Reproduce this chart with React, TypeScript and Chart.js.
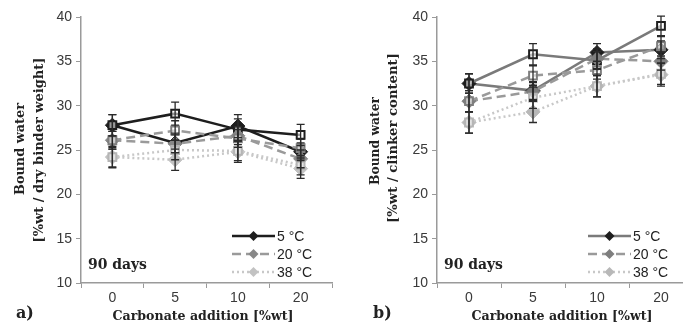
import React, { useEffect, useRef } from "react";
import { Chart, registerables } from "chart.js";

Chart.register(...registerables);

// Carbonate addition levels (x categories)
const categories = ["0", "5", "10", "20"];
const legendLabels = ["5 °C", "20 °C", "38 °C"];

// Panel a) bound water, %wt of dry binder weight
const a5Diamond = [27.8, 25.8, 27.7, 24.8];
const a5DiamondErr = [1.2, 1.1, 1.3, 1.0];
const a5Square = [27.8, 29.1, 27.3, 26.7];
const a5SquareErr = [1.2, 1.3, 1.2, 1.2];
const a20Diamond = [26.1, 25.7, 26.6, 24.0];
const a20DiamondErr = [1.0, 1.0, 1.0, 1.0];
const a20Square = [26.1, 27.2, 26.3, 25.2];
const a20SquareErr = [1.0, 1.1, 1.0, 1.0];
const a38Diamond = [24.2, 23.9, 24.8, 22.9];
const a38DiamondErr = [1.2, 1.2, 1.2, 1.1];
const a38Square = [24.2, 25.0, 24.9, 23.3];
const a38SquareErr = [1.1, 1.1, 1.1, 1.1];

// Panel b) bound water, %wt of clinker content
const b5Diamond = [32.5, 31.7, 36.0, 36.3];
const b5DiamondErr = [1.1, 1.0, 1.0, 1.0];
const b5Square = [32.5, 35.8, 35.1, 39.0];
const b5SquareErr = [1.1, 1.2, 1.0, 1.1];
const b20Diamond = [30.5, 31.6, 35.3, 35.0];
const b20DiamondErr = [1.2, 1.0, 1.1, 1.0];
const b20Square = [30.5, 33.4, 34.0, 36.7];
const b20SquareErr = [1.2, 1.1, 1.0, 1.1];
const b38Diamond = [28.1, 29.3, 32.2, 33.5];
const b38DiamondErr = [1.2, 1.2, 1.2, 1.3];
const b38Square = [28.1, 30.9, 32.2, 33.6];
const b38SquareErr = [1.2, 1.2, 1.2, 1.2];

const yMin = 10;
const yMax = 40;
const yStep = 5;

const SERIF = "'DejaVu Serif', 'Liberation Serif', serif";
const SANS = "'Liberation Sans', 'DejaVu Sans', sans-serif";

type SeriesStyle = {
  line: string;
  marker: string;
  dash: number[];
};

// Sets a bold serif font whose rendered width equals the given width
function fitFont(ctx: CanvasRenderingContext2D, text: string, width: number) {
  ctx.font = `bold 14px ${SERIF}`;
  const w = ctx.measureText(text).width;
  const size = (14 * width) / w;
  ctx.font = `bold ${size.toFixed(2)}px ${SERIF}`;
}

const errorBarPlugin = {
  id: "errorBars",
  afterDatasetsDraw(chart: any) {
    const ctx = chart.ctx;
    const yScale = chart.scales.y;
    chart.data.datasets.forEach((ds: any, i: number) => {
      if (!ds.errors) return;
      const meta = chart.getDatasetMeta(i);
      ctx.save();
      ctx.strokeStyle = "#2a2a2a";
      ctx.lineWidth = 1.3;
      ctx.setLineDash([]);
      meta.data.forEach((pt: any, j: number) => {
        const v = ds.data[j];
        const e = ds.errors[j];
        const x = pt.x;
        const yTop = yScale.getPixelForValue(v + e);
        const yBot = yScale.getPixelForValue(v - e);
        ctx.beginPath();
        ctx.moveTo(x, yTop);
        ctx.lineTo(x, yBot);
        ctx.moveTo(x - 4, yTop);
        ctx.lineTo(x + 4, yTop);
        ctx.moveTo(x - 4, yBot);
        ctx.lineTo(x + 4, yBot);
        ctx.stroke();
      });
      ctx.restore();
    });
  },
};

type TitleLine = { text: string; x: number; y: number; width: number };

function makeConfig(opts: {
  series: { data: number[]; err: number[]; style: SeriesStyle; square: boolean }[];
  legendStyles: SeriesStyle[];
  yTitle: TitleLine[];
  xTitleX: number;
  axisWidth: number;
  padRight: number;
  panel: string;
  panelX: number;
  legendX: number;
}) {
  const overlay = {
    id: "overlay",
    afterDraw(chart: any) {
      const ctx = chart.ctx;
      const area = chart.chartArea;
      ctx.save();
      ctx.fillStyle = "#222";
      ctx.textAlign = "center";
      ctx.textBaseline = "middle";
      // y-axis title, two rotated lines
      opts.yTitle.forEach((t) => {
        ctx.save();
        fitFont(ctx, t.text, t.width);
        ctx.translate(t.x, t.y);
        ctx.rotate(-Math.PI / 2);
        ctx.fillText(t.text, 0, 0);
        ctx.restore();
      });
      // x-axis title
      fitFont(ctx, "Carbonate addition [%wt]", 181);
      ctx.fillText("Carbonate addition [%wt]", opts.xTitleX, 317);
      // panel letter
      ctx.textAlign = "left";
      ctx.font = `bold 16px ${SERIF}`;
      ctx.fillText(opts.panel, opts.panelX, 314);
      // age label
      fitFont(ctx, "90 days", 59);
      ctx.fillText("90 days", area.left + 7, 265);
      // legend
      ctx.font = `14px ${SANS}`;
      const rows = [236, 254, 272];
      opts.legendStyles.forEach((st, k) => {
        const y = rows[k];
        const x0 = opts.legendX;
        const x1 = x0 + 43;
        ctx.save();
        ctx.strokeStyle = st.line;
        ctx.lineWidth = 2.5;
        ctx.setLineDash(st.dash);
        ctx.beginPath();
        ctx.moveTo(x0, y);
        ctx.lineTo(x1, y);
        ctx.stroke();
        ctx.setLineDash([]);
        ctx.fillStyle = st.marker;
        const cx = (x0 + x1) / 2;
        ctx.beginPath();
        ctx.moveTo(cx, y - 5);
        ctx.lineTo(cx + 5, y);
        ctx.lineTo(cx, y + 5);
        ctx.lineTo(cx - 5, y);
        ctx.closePath();
        ctx.fill();
        ctx.restore();
        ctx.fillStyle = "#222";
        ctx.textBaseline = "middle";
        ctx.fillText(legendLabels[k], x1 + 2, y + 1);
      });
      ctx.restore();
    },
  };

  const datasets = opts.series.map((s) => ({
    data: s.data,
    errors: s.err,
    borderColor: s.style.line,
    borderWidth: 2.5,
    borderDash: s.style.dash,
    backgroundColor: s.square ? "rgba(255,255,255,0.55)" : s.style.marker,
    pointStyle: s.square ? "rect" : "rectRot",
    pointRadius: s.square ? 5.5 : 7,
    pointBorderWidth: s.square ? 2 : 1,
    pointBorderColor: s.style.marker,
    pointBackgroundColor: s.square ? "rgba(255,255,255,0.55)" : s.style.marker,
    tension: 0,
    fill: false,
  }));

  return {
    type: "line" as const,
    data: { labels: categories, datasets },
    plugins: [errorBarPlugin, overlay],
    options: {
      animation: false as const,
      responsive: false,
      layout: { padding: { top: 17, right: opts.padRight, left: 0, bottom: 0 } },
      plugins: { legend: { display: false }, tooltip: { enabled: false } },
      scales: {
        x: {
          offset: true,
          grid: {
            offset: true,
            drawOnChartArea: false,
            color: "#9a9a9a",
            tickLength: 5,
          },
          border: { color: "#9a9a9a", width: 1.5 },
          ticks: { color: "#3a3a3a", font: { family: SANS, size: 14 }, padding: 2 },
          afterFit(scale: any) {
            scale.height = 47;
          },
        },
        y: {
          min: yMin,
          max: yMax,
          grid: { drawOnChartArea: false, color: "#9a9a9a", tickLength: 5 },
          border: { color: "#9a9a9a", width: 1.5 },
          ticks: {
            stepSize: yStep,
            color: "#3a3a3a",
            font: { family: SANS, size: 14 },
            padding: 4,
          },
          afterFit(scale: any) {
            scale.width = opts.axisWidth;
          },
        },
      },
    },
  };
}

// panel a styles
const aStyles: SeriesStyle[] = [
  { line: "#1e1e1e", marker: "#1e1e1e", dash: [] },
  { line: "#9a9a9a", marker: "#888888", dash: [9, 5] },
  { line: "#c8c8c8", marker: "#c2c2c2", dash: [2, 3] },
];
// panel b styles
const bStyles: SeriesStyle[] = [
  { line: "#7a7a7a", marker: "#1e1e1e", dash: [] },
  { line: "#9a9a9a", marker: "#7e7e7e", dash: [9, 5] },
  { line: "#c8c8c8", marker: "#b8b8b8", dash: [2, 3] },
];

const squareA: SeriesStyle[] = [
  { line: "#1e1e1e", marker: "#1e1e1e", dash: [] },
  { line: "#9a9a9a", marker: "#7e7e7e", dash: [9, 5] },
  { line: "#c8c8c8", marker: "#b5b5b5", dash: [2, 3] },
];
const squareB: SeriesStyle[] = [
  { line: "#7a7a7a", marker: "#1e1e1e", dash: [] },
  { line: "#9a9a9a", marker: "#7e7e7e", dash: [9, 5] },
  { line: "#c8c8c8", marker: "#b5b5b5", dash: [2, 3] },
];

function Panel(props: { config: any; width: number; left: number }) {
  const ref = useRef<HTMLCanvasElement | null>(null);
  useEffect(() => {
    if (!ref.current) return;
    const chart = new Chart(ref.current, props.config);
    return () => chart.destroy();
  }, [props.config]);
  return (
    <canvas
      ref={ref}
      width={props.width}
      height={330}
      style={{ position: "absolute", left: props.left, top: 0, width: props.width, height: 330 }}
    />
  );
}

const configA = makeConfig({
  series: [
    { data: a38Square, err: a38SquareErr, style: squareA[2], square: true },
    { data: a38Diamond, err: a38DiamondErr, style: aStyles[2], square: false },
    { data: a20Square, err: a20SquareErr, style: squareA[1], square: true },
    { data: a20Diamond, err: a20DiamondErr, style: aStyles[1], square: false },
    { data: a5Square, err: a5SquareErr, style: squareA[0], square: true },
    { data: a5Diamond, err: a5DiamondErr, style: aStyles[0], square: false },
  ],
  legendStyles: aStyles,
  yTitle: [
    { text: "Bound water", x: 21, y: 149, width: 92 },
    { text: "[%wt / dry binder weight]", x: 40, y: 150, width: 185 },
  ],
  xTitleX: 203,
  axisWidth: 81,
  padRight: 5,
  panel: "a)",
  panelX: 16,
  legendX: 232,
});

const configB = makeConfig({
  series: [
    { data: b38Square, err: b38SquareErr, style: squareB[2], square: true },
    { data: b38Diamond, err: b38DiamondErr, style: bStyles[2], square: false },
    { data: b20Square, err: b20SquareErr, style: squareB[1], square: true },
    { data: b20Diamond, err: b20DiamondErr, style: bStyles[1], square: false },
    { data: b5Square, err: b5SquareErr, style: squareB[0], square: true },
    { data: b5Diamond, err: b5DiamondErr, style: bStyles[0], square: false },
  ],
  legendStyles: bStyles,
  yTitle: [
    { text: "Bound water", x: 36, y: 141, width: 88 },
    { text: "[%wt / clinker content]", x: 54, y: 138, width: 170 },
  ],
  xTitleX: 222,
  axisWidth: 97,
  padRight: 0,
  panel: "b)",
  panelX: 33,
  legendX: 248,
});

export default function App() {
  return (
    <div
      style={{
        position: "fixed",
        left: 0,
        top: 0,
        width: 683,
        height: 330,
        background: "#fff",
        overflow: "hidden",
      }}
    >
      <Panel config={configA} width={340} left={0} />
      <Panel config={configB} width={361} left={340} />
    </div>
  );
}
